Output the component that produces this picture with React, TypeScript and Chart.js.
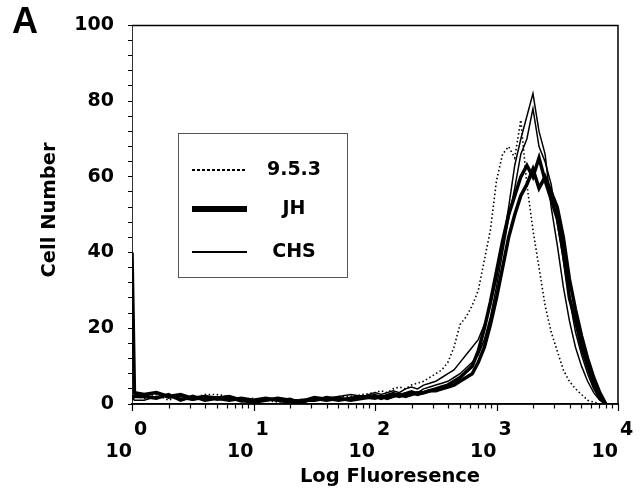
import React, { useEffect, useRef } from "react";
import { Chart, registerables } from "chart.js";

Chart.register(...registerables);

// log10 of fluorescence channel positions
const logFluor = [
  0, 0.02, 0.1, 0.2, 0.3, 0.4, 0.5, 0.6, 0.7, 0.8, 0.9, 1.0, 1.1, 1.2, 1.3, 1.4, 1.5, 1.6, 1.7, 1.8, 1.9, 2.0,
  2.05, 2.1, 2.15, 2.2, 2.25, 2.3, 2.35, 2.4, 2.45, 2.5,
  2.55, 2.6, 2.65, 2.7, 2.75, 2.8, 2.85, 2.9, 2.95, 3.0,
  3.05, 3.1, 3.15, 3.2, 3.25, 3.3, 3.35, 3.4, 3.45, 3.5,
  3.55, 3.6, 3.65, 3.7, 3.75, 3.8, 3.85, 3.9,
];

const clone953 = [
  2, 2,
  1.5, 2.5, 1, 2, 1.5, 2.5, 2.5, 2, 1, 1.5, 1, 0.5, 1, 1, 1.5, 1, 2, 2, 2.5, 3,
  3.5, 3, 4, 4.5, 4, 5, 5.5, 6, 7, 8,
  9, 11, 15, 21, 23, 26, 30, 38, 46, 59,
  66, 68, 65, 75, 58, 46, 36, 26, 19, 14,
  9, 6, 4, 2.5, 1, 0.5, 0, 0,
];

const cloneJHa = [
  40, 3,
  2.5, 3, 2, 2.5, 1.5, 2, 1.5, 1, 1.5, 1, 1.5, 1, 0.5, 1, 1, 1.5, 1, 1.5, 2, 1.5,
  2, 1.5, 2, 2.5, 2, 2.5, 3, 3, 3.5, 4,
  4.5, 5, 6, 7, 8.5, 10, 14, 20, 27, 35,
  43, 50, 55, 60, 63, 60, 65, 59, 54, 49,
  40, 28, 22, 15, 10, 5, 1.5, 0,
];

const cloneJHb = [
  1.5, 2,
  2, 1.5, 2.5, 1, 2, 1, 1.5, 2, 1, 0.5, 1, 1.5, 1, 0.5, 1.5, 1, 1.5, 1, 1.5, 2,
  1.5, 2, 2.5, 2, 2.5, 3, 2.5, 3, 3.5, 3.5,
  4, 4.5, 5, 6, 7, 8, 11, 15, 21, 28,
  36, 44, 50, 55, 58, 62, 57, 60, 56, 52,
  44, 33, 25, 18, 12, 7, 3, 0,
];

const cloneCHSa = [
  2, 2.5,
  2, 3, 1.5, 2, 1, 1.5, 2, 1, 1.5, 1, 1, 1.5, 1, 1, 2, 1.5, 2, 2.5, 2, 3,
  2.5, 3, 3.5, 3, 4, 4.5, 4, 5, 5.5, 6,
  7, 8, 9, 11, 13, 15, 17, 21, 26, 33,
  42, 52, 63, 70, 76, 82, 72, 66, 52, 42,
  31, 22, 15, 10, 6, 3, 1, 0,
];

const cloneCHSb = [
  1.5, 1,
  1, 2, 2.5, 1.5, 1, 2, 1, 1.5, 0.5, 1, 1.5, 1, 1.5, 0.5, 1, 2, 1.5, 1, 2, 2.5,
  2, 2.5, 3, 2.5, 3, 3.5, 3, 4, 4.5, 5,
  5.5, 6, 7, 8, 9.5, 11, 13, 17, 23, 31,
  40, 49, 57, 66, 70, 78, 68, 64, 58, 48,
  38, 28, 19, 13, 8, 4, 1.5, 0,
];

const legendLabels = ["9.5.3", "JH", "CHS"];
const xExponents = [0, 1, 2, 3, 4];
const xMinorMultipliers = [2, 3, 4, 5, 6, 7, 8, 9];
const xBase = "10";
const yTickLabels = [0, 20, 40, 60, 80, 100];
const xTitle = "Log Fluoresence";
const yTitle = "Cell Number";
const panelLabel = "A";

const FONT = '"DejaVu Sans", "Liberation Sans", Arial, sans-serif';

function pts(vals: number[]) {
  return vals.map((v, i) => ({ x: Math.pow(10, logFluor[i]), y: v }));
}

const overlayPlugin = {
  id: "overlay",
  afterDraw(chart: any) {
    const { ctx, chartArea } = chart;
    const { left, right, top, bottom } = chartArea;
    const xs = chart.scales.x;
    ctx.save();
    ctx.fillStyle = "#000";
    ctx.strokeStyle = "#000";

    // frame top / right / bottom
    ctx.lineWidth = 1.5;
    ctx.beginPath();
    ctx.moveTo(left, top);
    ctx.lineTo(right, top);
    ctx.lineTo(right, bottom);
    ctx.lineTo(left, bottom);
    ctx.stroke();

    // x axis tick marks (log decades and minors)
    ctx.lineWidth = 1.2;
    xExponents.forEach((e) => {
      const px = xs.getPixelForValue(Math.pow(10, e));
      ctx.beginPath();
      ctx.moveTo(Math.round(px) + 0.5, bottom);
      ctx.lineTo(Math.round(px) + 0.5, bottom + 7);
      ctx.stroke();
      if (e < 4) {
        xMinorMultipliers.forEach((m) => {
          const p = xs.getPixelForValue(m * Math.pow(10, e));
          ctx.beginPath();
          ctx.moveTo(Math.round(p) + 0.5, bottom);
          ctx.lineTo(Math.round(p) + 0.5, bottom + 4.5);
          ctx.stroke();
        });
      }
    });

    // panel label
    ctx.font = `bold 36px "Liberation Sans", Arial, sans-serif`;
    ctx.textAlign = "left";
    ctx.textBaseline = "alphabetic";
    ctx.fillText(panelLabel, 12, 33);

    // x tick labels 10^n
    ctx.font = `bold 19px ${FONT}`;
    xExponents.forEach((e) => {
      const px = xs.getPixelForValue(Math.pow(10, e));
      ctx.textAlign = "right";
      ctx.fillText(xBase, px, bottom + 53);
      ctx.textAlign = "left";
      ctx.fillText(String(e), px + 2, bottom + 31);
    });

    // x title
    ctx.font = `bold 19.5px ${FONT}`;
    ctx.textAlign = "center";
    ctx.fillText(xTitle, 390, bottom + 78);

    // y title
    ctx.save();
    ctx.translate(50, 210);
    ctx.rotate(-Math.PI / 2);
    ctx.textAlign = "center";
    ctx.textBaseline = "middle";
    ctx.font = `bold 19.5px ${FONT}`;
    ctx.fillText(yTitle, 0, 0);
    ctx.restore();

    // legend box
    ctx.lineWidth = 1;
    ctx.strokeStyle = "#555";
    ctx.strokeRect(178.5, 133.5, 169, 144);
    const rows = [170, 209, 252];
    const styles = [
      { w: 2, dash: [3, 2] },
      { w: 6, dash: [] },
      { w: 2, dash: [] },
    ];
    ctx.strokeStyle = "#000";
    rows.forEach((y, i) => {
      ctx.lineWidth = styles[i].w;
      ctx.setLineDash(styles[i].dash);
      ctx.beginPath();
      ctx.moveTo(192, y);
      ctx.lineTo(247, y);
      ctx.stroke();
      ctx.setLineDash([]);
      ctx.font = `bold 19px ${FONT}`;
      ctx.textAlign = "center";
      ctx.textBaseline = "middle";
      ctx.fillText(legendLabels[i], 294, y);
    });
    ctx.restore();
  },
};

export default function App() {
  const ref = useRef<HTMLCanvasElement | null>(null);
  useEffect(() => {
    document.body.style.margin = "0";
    const canvas = ref.current;
    if (!canvas) return;
    const thick = { borderWidth: 3.5, borderColor: "#000", pointRadius: 0, tension: 0, fill: false };
    const thin = { borderWidth: 1.5, borderColor: "#000", pointRadius: 0, tension: 0, fill: false };
    const chart = new Chart(canvas, {
      type: "line",
      data: {
        datasets: [
          { label: "JH", data: pts(cloneJHa), ...thick },
          { label: "JH", data: pts(cloneJHb), ...thick },
          { label: "CHS", data: pts(cloneCHSa), ...thin },
          { label: "CHS", data: pts(cloneCHSb), ...thin },
          {
            label: "9.5.3",
            data: pts(clone953),
            borderWidth: 1.6,
            borderColor: "#000",
            borderDash: [1.5, 2.5],
            pointRadius: 0,
            tension: 0,
            fill: false,
          },
        ],
      },
      options: {
        animation: false,
        responsive: false,
        devicePixelRatio: 1,
        layout: { padding: { top: 15, right: 25, left: 0, bottom: 0 } },
        plugins: { legend: { display: false }, tooltip: { enabled: false } },
        scales: {
          x: {
            type: "logarithmic",
            min: 1,
            max: 10000,
            afterFit: (s: any) => {
              s.height = 93;
            },
            border: { display: true, color: "#000", width: 1.5 },
            grid: { display: false },
            ticks: { autoSkip: false, callback: () => "", maxRotation: 0 },
          },
          y: {
            min: 0,
            max: 100,
            afterFit: (s: any) => {
              s.width = 132;
            },
            border: { display: true, color: "#333", width: 1, dash: [2, 3] },
            grid: { drawOnChartArea: false, drawTicks: true, tickLength: 4, color: "#000", lineWidth: 1 },
            ticks: {
              stepSize: 4,
              autoSkip: false,
              padding: 14,
              color: "#000",
              font: { family: FONT, weight: "bold", size: 19 },
              callback: (v: any) => (yTickLabels.includes(Number(v)) ? String(v) : ""),
            },
          },
        },
      },
      plugins: [overlayPlugin],
    } as any);
    return () => chart.destroy();
  }, []);
  return (
    <div style={{ width: 643, height: 497, background: "#fff" }}>
      <canvas ref={ref} width={643} height={497} />
    </div>
  );
}
